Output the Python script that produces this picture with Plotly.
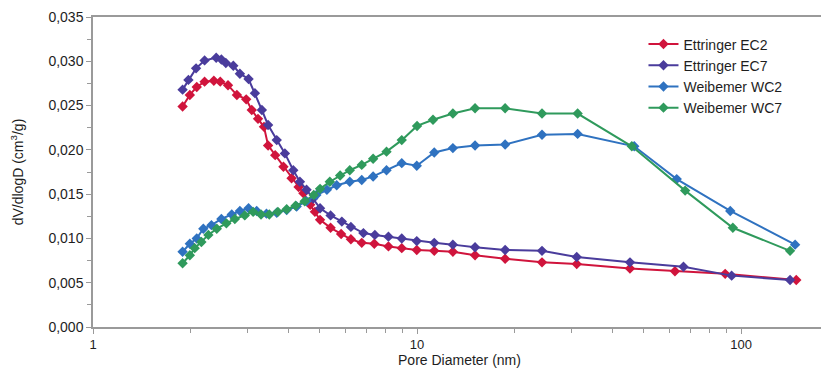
import plotly.graph_objects as go

# ---- data ----
ec2_d = [1.89, 1.99, 2.09, 2.21, 2.36, 2.47, 2.61, 2.78, 2.97, 3.09, 3.23, 3.37, 3.47, 3.65, 3.87, 4.10,
         4.31, 4.46, 4.68, 4.84, 5.02, 5.41, 5.83, 6.25, 6.75, 7.38, 8.16, 8.97, 9.98, 11.3, 12.9, 15.1,
         18.7, 24.3, 31.1, 45.4, 62.5, 89.3, 148]
ec2_v = [0.0249, 0.0262, 0.0271, 0.0277, 0.0278, 0.0277, 0.0273, 0.0262, 0.0257, 0.0245, 0.0235, 0.0226,
         0.0205, 0.0194, 0.0181, 0.0168, 0.0158, 0.0151, 0.0138, 0.0130, 0.0121, 0.0112, 0.0105, 0.0099,
         0.0095, 0.0094, 0.0091, 0.0089, 0.0087, 0.0086, 0.0085, 0.0081, 0.0077, 0.0073, 0.0071, 0.0066,
         0.0063, 0.0060, 0.0053]

ec7_d = [1.89, 1.97, 2.08, 2.21, 2.40, 2.49, 2.57, 2.71, 2.84, 3.02, 3.16, 3.32, 3.47, 3.69, 3.91, 4.15,
         4.35, 4.56, 4.78, 5.02, 5.41, 5.86, 6.25, 6.83, 7.41, 8.16, 8.97, 9.98, 11.3, 12.9, 15.1, 18.7,
         24.3, 31.1, 45.4, 66.4, 93.5, 141.6]
ec7_v = [0.0268, 0.0279, 0.0292, 0.0301, 0.0304, 0.0302, 0.0298, 0.0295, 0.0286, 0.0280, 0.0264, 0.0245,
         0.0228, 0.0211, 0.0196, 0.0177, 0.0164, 0.0155, 0.0145, 0.0134, 0.0126, 0.0119, 0.0113, 0.0106,
         0.0104, 0.0102, 0.0100, 0.0097, 0.0095, 0.0093, 0.0090, 0.0087, 0.0086, 0.0079, 0.0073, 0.0068,
         0.0058, 0.0053]

wc2_d = [1.89, 1.99, 2.09, 2.19, 2.32, 2.49, 2.68, 2.84, 3.02, 3.20, 3.43, 3.69, 3.96, 4.25, 4.56, 4.89,
         5.27, 5.65, 6.20, 6.75, 7.32, 8.05, 8.97, 9.98, 11.3, 12.9, 15.1, 18.7, 24.3, 31.3, 46.8, 63.3,
         92.6, 146.8]
wc2_v = [0.0085, 0.0094, 0.0100, 0.0111, 0.0115, 0.0122, 0.0127, 0.0131, 0.0134, 0.0131, 0.0128, 0.0129,
         0.0132, 0.0136, 0.0142, 0.0149, 0.0155, 0.0160, 0.0164, 0.0166, 0.0170, 0.0177, 0.0185, 0.0182,
         0.0197, 0.0202, 0.0205, 0.0206, 0.0217, 0.0218, 0.0204, 0.0167, 0.0131, 0.0093]

wc7_d = [1.89, 1.99, 2.06, 2.16, 2.27, 2.41, 2.58, 2.74, 2.94, 3.12, 3.30, 3.50, 3.72, 3.96, 4.22, 4.50,
         4.80, 5.02, 5.38, 5.79, 6.20, 6.75, 7.32, 8.05, 8.97, 10.0, 11.2, 12.9, 15.1, 18.7, 24.3, 31.3,
         46.0, 67.2, 94.3, 141.6]
wc7_v = [0.0072, 0.0081, 0.0089, 0.0096, 0.0104, 0.0111, 0.0117, 0.0122, 0.0126, 0.0130, 0.0127, 0.0127,
         0.0130, 0.0133, 0.0137, 0.0142, 0.0149, 0.0156, 0.0164, 0.0171, 0.0177, 0.0183, 0.0190, 0.0198,
         0.0211, 0.0227, 0.0234, 0.0241, 0.0247, 0.0247, 0.0241, 0.0241, 0.0204, 0.0154, 0.0112, 0.0086]

series_names = ["Ettringer EC2", "Ettringer EC7", "Weibemer WC2", "Weibemer WC7"]
y_ticks = [0.000, 0.005, 0.010, 0.015, 0.020, 0.025, 0.030, 0.035]
x_ticks = [1, 10, 100]

colors = ["#d0143c", "#4a3c9c", "#2f72c0", "#2f9a5c"]
data = [(ec2_d, ec2_v), (ec7_d, ec7_v), (wc2_d, wc2_v), (wc7_d, wc7_v)]

fig = go.Figure()
for (d, v), name, c in zip(data, series_names, colors):
    fig.add_trace(go.Scatter(
        x=d, y=v, name=name, mode="lines+markers",
        line=dict(color=c, width=2),
        marker=dict(symbol="diamond", size=8, color=c),
    ))

axis_col = "#9a9a9a"
txt_col = "#1e1e1e"
font_fam = "Liberation Sans, Arial, sans-serif"

# page body has an 8px default margin, so the figure is sized to fit the window
fig.update_layout(
    width=821, height=369,
    margin=dict(l=85, r=3, t=9, b=50),
    paper_bgcolor="white", plot_bgcolor="white",
    separators=", ",
    font=dict(family=font_fam, size=13, color=txt_col),
    showlegend=True,
    legend=dict(x=0.751, y=0.963, xanchor="left", yanchor="top",
                bgcolor="rgba(0,0,0,0)", font=dict(size=14, color=txt_col),
                tracegroupgap=0, itemwidth=30),
)

fig.update_xaxes(
    type="log", range=[0, 2.262], automargin=False,
    tickvals=x_ticks, ticktext=[str(t) for t in x_ticks],
    ticks="outside", ticklen=5, tickcolor=axis_col,
    showline=True, linecolor=axis_col, linewidth=1.5, mirror=True,
    showgrid=False, zeroline=False,
    minor=dict(ticks="outside", ticklen=4, tickcolor=axis_col, dtick="D1", showgrid=False),
    tickfont=dict(size=13, color=txt_col),
    title=dict(text="Pore Diameter (nm)", font=dict(size=14, color=txt_col), standoff=0),
)
fig.update_yaxes(
    range=[0, 0.035], automargin=False,
    tickvals=y_ticks, tickformat=".3f",
    ticks="outside", ticklen=5, tickcolor=axis_col,
    showline=True, linecolor=axis_col, linewidth=1.5, mirror=True,
    showgrid=False, zeroline=False,
    minor=dict(ticks="outside", ticklen=4, tickcolor=axis_col, dtick=0.0025, showgrid=False),
    tickfont=dict(size=14, color=txt_col),
    title=dict(text="dV/dlogD (cm<sup>3</sup>/g)", font=dict(size=14, color=txt_col), standoff=22),
)

fig.write_html("out.html")
